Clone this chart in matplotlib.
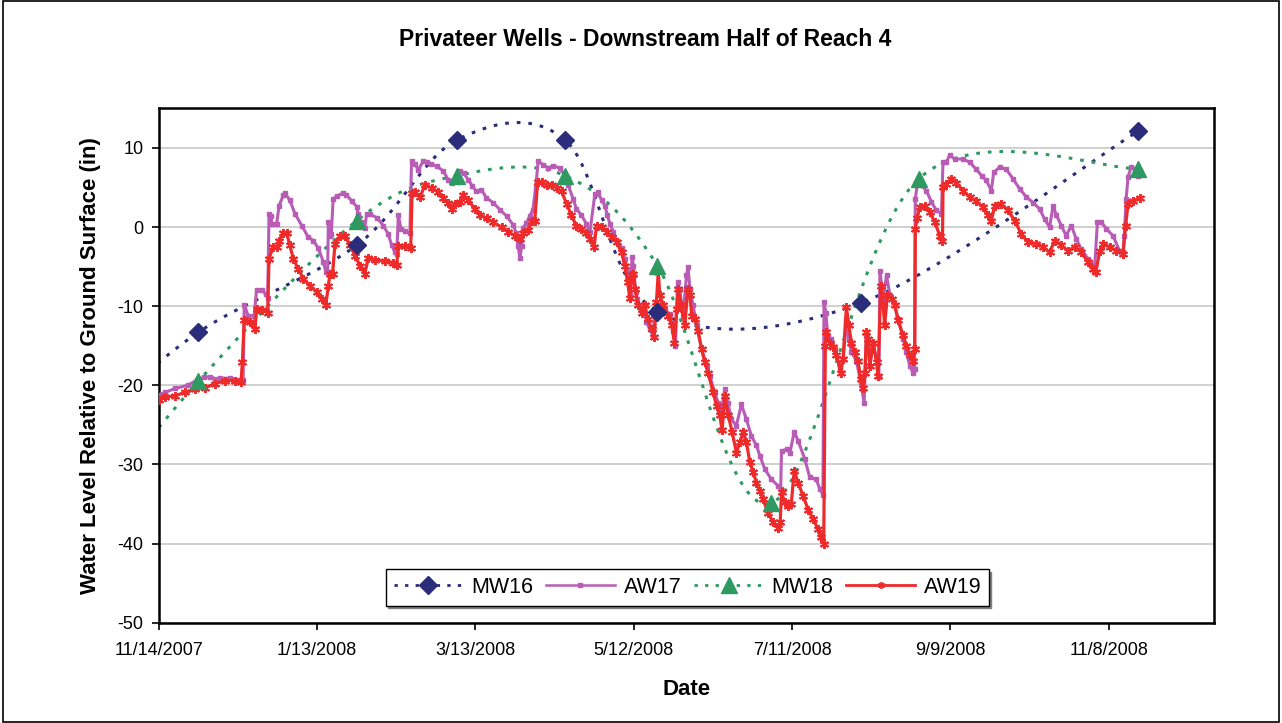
import datetime as dt
import numpy as np
import matplotlib
matplotlib.use("Agg")
import matplotlib.pyplot as plt
import matplotlib.dates as mdates
from matplotlib.lines import Line2D
from matplotlib.patches import Rectangle

plt.rcParams['font.family'] = ['Liberation Sans', 'DejaVu Sans']

# ---------------- data (days after 11/14/2007) ----------------
start_date = dt.date(2007, 11, 14)
axis_days = 400
tick_step_days = 60

mw16_days = [-30, 15, 75, 113, 154, 189, 266, 371]
mw16_vals = [-26.0, -13.3, -2.3, 11.0, 11.0, -10.7, -9.6, 12.1]

mw18_days = [-30, 15, 75, 113, 154, 189, 232, 288, 371]
mw18_vals = [-38.0, -19.5, 0.8, 6.5, 6.5, -4.9, -34.9, 6.1, 7.4]

aw17_days = [0, 2.4, 6.2, 11, 14.6, 17.1, 19.6, 21.5, 23.4, 27.2, 30.9, 32.0,
             32.4, 33.9, 36.2, 37.1, 39.2, 40.5, 41.3, 41.8, 42.4, 43.0, 44.7,
             45.6, 47.2, 47.8, 49.7, 51.6, 54.2, 56.7, 58.6, 60.5, 62.4, 63.4,
             64.0, 64.3, 64.9, 65.4, 66.1, 67.4, 69.9, 71.1, 73.1, 75.0, 75.6,
             76.5, 78.1, 78.8, 80.1, 82.6, 85.1, 87.0, 88.3, 89.5, 90.2, 90.8,
             91.8, 93.3, 95.2, 95.8, 97.1, 98.3, 100.2, 101.5, 103.2, 105.3,
             107.8, 109.7, 111.0, 114.1, 115.5, 117.3, 118.8, 120.4, 122.3,
             124.2, 126.7, 129.3, 131.8, 134.3, 135.4, 136.2, 136.9, 137.5,
             138.1, 139.3, 140.6, 141.8, 142.9, 143.8, 145.7, 147.5, 149.5,
             152.0, 153.9, 155.2, 157.0, 158.3, 160.2, 162.1, 163.4, 165.3,
             166.5, 167.8, 169.1, 170.0, 171.0, 172.3, 173.5, 175.4, 176.6,
             177.9, 178.5, 179.4, 179.9, 180.8, 181.4, 182.7, 184.1, 184.8,
             186.1, 187.4, 188.0, 189.5, 191.8, 193.7, 194.9, 195.8, 196.6,
             197.4, 198.7, 200.0, 200.6, 201.3, 202.5, 203.8, 205.7, 207.6,
             208.8, 210.7, 212.0, 213.2, 214.5, 215.7, 217.0, 218.9, 220.8,
             222.7, 224.6, 226.5, 227.8, 229.7, 232.2, 234.7, 235.7, 236.0,
             237.9, 239.2, 240.8, 242.3, 244.8, 246.7, 249.2, 250.5, 251.7,
             252.1, 252.8, 253.6, 254.9, 256.2, 258.1, 259.4, 260.6, 261.5,
             262.5, 264.4, 266.0, 267.3, 268.2, 269.5, 270.7, 272.0, 272.9,
             273.3, 274.5, 275.8, 277.1, 278.9, 280.2, 282.1, 283.3, 284.6,
             285.8, 286.4, 286.7, 287.7, 289.0, 290.9, 292.8, 294.7, 296.6,
             297.2, 298.5, 299.7, 301.6, 304.8, 307.3, 309.8, 311.8, 313.6,
             315.5, 316.4, 318.7, 321.2, 323.7, 326.3, 328.8, 331.3, 333.8,
             335.7, 337.6, 338.9, 340.2, 342.0, 343.9, 345.8, 347.7, 349.6,
             352.1, 354.7, 355.7, 357.2, 359.1, 361.6, 364.1, 365.4, 365.9,
             366.6, 367.3, 368.5, 369.8, 371.2]
aw17_vals = [-21.2, -20.9, -20.4, -20.0, -19.3, -19.0, -18.9, -19.2, -19.1, -19.1, -19.3, -19.3,
             -9.8, -11.2, -11.2, -7.9, -7.9, -8.5, -8.9, 1.6, 1.4, 0.4, 0.4,
             2.7, 4.0, 4.3, 3.4, 1.7, 0.2, -1.3, -1.7, -2.7, -4.4, -5.7,
             -5.7, 0.7, -1.1, -0.9, 3.5, 3.9, 4.3, 4.1, 3.3, 2.6, 1.6,
             0.7, -0.1, 1.7, 1.6, 1.2, 0.2, -0.9, -2.3, -3.2, -3.4, 1.5,
             -0.2, -0.5, -0.8, 8.3, 8.0, 7.2, 8.3, 8.2, 8.0, 7.7,
             7.1, 6.0, 5.6, 7.1, 6.8, 6.0, 5.2, 4.5, 4.7,
             3.7, 3.1, 2.2, 1.4, 0.3, -0.7, -2.4, -3.9, -2.4,
             -0.1, 0.5, 1.4, 2.2, 5.2, 8.3, 7.9, 7.5, 7.7,
             7.5, 6.5, 5.3, 3.6, 2.3, 1.5, 0.4, -0.6, 4.2,
             4.4, 3.4, 2.7, 1.5, 0.4, -0.6, -1.7, -2.7, -4.0,
             -5.7, -8.6, -3.8, -4.9, -8.2, -9.1, -10.3, -9.9, -12.0,
             -12.9, -13.7, -10.3, -10.0, -10.5, -11.0, -13.1, -15.0, -7.0,
             -7.8, -11.2, -6.1, -5.1, -7.8, -9.9, -12.4, -15.4, -17.5,
             -18.8, -20.9, -22.2, -23.4, -20.5, -22.2, -24.3, -25.1, -22.4,
             -24.3, -26.4, -27.6, -28.9, -30.6, -31.9, -32.7, -33.1, -28.3,
             -28.1, -28.5, -25.9, -27.0, -29.3, -31.6, -31.9, -33.1, -33.8,
             -9.5, -10.8, -13.9, -14.1, -15.4, -17.9, -16.7, -11.8, -14.1,
             -15.8, -16.9, -19.6, -22.2, -13.7, -17.5, -14.6, -16.7, -19.0,
             -5.5, -9.1, -6.1, -8.6, -9.9, -11.6, -14.1, -15.8, -17.5,
             -18.4, -17.9, 3.6, 5.9, 5.3, 4.6, 3.2, 2.1, 1.7,
             8.2, 8.2, 9.1, 8.6, 8.6, 8.2, 7.3, 6.5, 5.9,
             4.6, 6.9, 7.6, 7.3, 6.1, 4.8, 3.8, 3.1, 2.3,
             1.0, 0.0, 2.7, 1.5, 0.2, -1.1, 0.2, -1.5, -2.8,
             -4.0, -4.9, 0.6, 0.6, -0.2, -1.1, -3.0, -3.2, -1.1,
             3.6, 6.3, 7.6, 7.3, 6.5]

aw19_days = [0, 2.4, 6.2, 10.0, 13.8, 17.5, 21.3, 25.1, 28.9, 31.2, 31.7, 32.4,
             34.6, 36.5, 37.1, 39.0, 41.3, 41.8, 43.4, 44.7, 45.6, 47.2, 48.5,
             49.7, 51.0, 52.9, 54.8, 57.3, 59.8, 61.7, 63.3, 64.3, 64.9, 65.9,
             66.8, 68.7, 70.6, 72.5, 74.4, 76.3, 78.1, 79.4, 81.9, 85.7, 88.9,
             90.2, 90.8, 93.3, 95.5, 96.0, 97.1, 99.0, 100.9, 103.4, 105.9,
             107.8, 109.7, 111.0, 112.2, 114.1, 115.4, 117.3, 119.8, 121.7,
             124.3, 126.8, 129.9, 132.4, 135.0, 136.9, 138.1, 140.0, 141.3,
             142.5, 143.6, 145.1, 147.0, 148.9, 150.8, 152.7, 154.6, 156.4,
             158.3, 160.2, 162.1, 163.4, 165.0, 165.9, 167.8, 169.7, 171.6,
             173.5, 175.4, 176.6, 177.7, 178.5, 179.2, 179.8, 180.5, 181.7,
             183.0, 184.3, 185.3, 186.8, 187.8, 188.6, 189.3, 189.9, 191.2,
             193.1, 194.4, 195.4, 196.3, 196.9, 198.0, 199.4, 200.5, 201.3,
             202.0, 203.3, 204.4, 205.7, 207.0, 208.2, 210.1, 211.4, 212.6,
             213.5, 214.5, 215.8, 217.3, 218.9, 220.2, 221.5, 222.7, 224.0,
             225.3, 226.5, 227.8, 229.0, 230.9, 232.8, 234.7, 235.5, 236.0,
             237.2, 238.5, 239.7, 240.8, 242.3, 244.2, 246.1, 248.0, 249.9,
             251.1, 252.0, 252.6, 253.0, 254.3, 255.5, 256.8, 258.5, 259.3,
             260.6, 261.5, 262.5, 263.7, 265.0, 266.0, 266.9, 267.6, 268.2,
             268.9, 269.5, 270.7, 272.0, 272.6, 273.6, 274.5, 275.1, 276.1,
             277.7, 278.9, 280.2, 282.1, 283.3, 284.6, 285.8, 286.5, 286.7,
             287.4, 288.4, 290.3, 292.2, 294.1, 296.0, 297.0, 297.2, 298.5,
             300.4, 302.3, 304.8, 307.3, 309.8, 312.3, 314.2, 315.5, 316.8,
             319.3, 321.8, 324.4, 326.9, 329.4, 332.6, 335.1, 337.6, 339.5,
             342.0, 344.6, 347.1, 349.6, 352.1, 354.0, 355.1, 356.6, 357.8,
             360.4, 362.9, 365.4, 366.4, 367.3, 369.2, 371.7]
aw19_vals = [-21.9, -21.5, -21.3, -20.9, -20.5, -20.3, -19.8, -19.4, -19.4, -19.6, -17.1, -11.8,
             -12.0, -12.9, -10.3, -10.5, -10.8, -4.0, -2.5, -2.5, -1.7, -0.8, -0.8,
             -2.3, -4.0, -5.3, -6.5, -7.4, -8.2, -9.1, -9.9, -7.4, -5.9, -5.9,
             -2.1, -1.1, -1.1, -2.3, -3.6, -4.9, -5.9, -3.9, -4.1, -4.3, -4.5,
             -4.8, -2.4, -2.4, -2.6, 4.3, 4.4, 3.8, 5.3, 5.0, 4.4,
             3.7, 3.1, 2.3, 2.9, 3.2, 4.0, 3.4, 2.3, 1.5,
             1.1, 0.6, 0.0, -0.6, -1.1, -1.5, -0.8, -0.4, 0.8,
             0.8, 5.7, 5.7, 5.3, 5.3, 5.0, 4.5, 2.9, 1.5,
             0.1, -0.3, -0.8, -1.5, -2.5, 0.2, 0.0, -0.6, -1.3,
             -1.9, -3.2, -4.9, -7.0, -8.9, -6.1, -5.9, -7.8, -9.9,
             -10.8, -9.9, -11.6, -12.9, -13.9, -9.5, -5.7, -8.6, -9.9,
             -11.2, -12.4, -14.6, -10.3, -7.8, -9.9, -12.4, -7.8, -8.6,
             -11.2, -11.6, -13.1, -15.4, -17.1, -18.4, -20.9, -22.6, -23.8,
             -25.7, -21.3, -23.8, -25.9, -28.5, -27.2, -25.9, -27.2, -29.7,
             -31.0, -32.3, -33.3, -34.4, -36.1, -37.3, -38.0, -37.3, -33.5,
             -34.8, -35.2, -35.0, -30.8, -32.3, -34.0, -35.7, -36.9, -38.2,
             -39.2, -40.1, -15.0, -13.3, -14.6, -15.2, -16.2, -18.4, -16.7,
             -10.1, -12.4, -14.6, -15.8, -16.9, -19.2, -20.3, -18.4, -13.3,
             -14.1, -17.5, -14.6, -17.1, -18.8, -7.4, -9.9, -12.4, -8.6,
             -9.1, -9.9, -11.8, -13.7, -15.0, -16.2, -16.9, -15.4, -0.2,
             1.1, 2.5, 2.7, 1.9, 0.6, -1.1, -1.7, 5.1, 5.5,
             6.1, 5.6, 4.6, 3.8, 3.3, 2.5, 1.5, 0.8, 2.7,
             2.9, 2.1, 0.8, -0.9, -1.9, -2.1, -2.5, -3.2, -1.7,
             -2.3, -3.0, -2.5, -3.2, -4.4, -5.3, -5.7, -3.0, -2.1,
             -2.5, -3.0, -3.4, 0.2, 2.9, 3.3, 3.7]

y_ticks = [-50, -40, -30, -20, -10, 0, 10]

# ---------------- figure ----------------
W, H = 1282, 723
fig = plt.figure(figsize=(W / 100, H / 100), dpi=100)
ax = fig.add_axes([158.7 / W, 1 - 622.7 / H, (1214.3 - 158.7) / W, (622.7 - 108.4) / H])

x0 = mdates.date2num(start_date)
def to_x(days):
    return x0 + np.asarray(days, dtype=float)

ax.set_xlim(x0, x0 + axis_days)
ax.set_ylim(-50, 15)

c_mw16 = '#2B2C7A'
c_aw17 = '#B85CB5'
c_mw18 = '#2E9A62'
c_aw19 = '#EE2A2A'


def smooth(xs, ys, n=40):
    pts = ax.transData.transform(np.column_stack([xs, ys]))
    out = []
    for i in range(len(pts) - 1):
        p0 = pts[i - 1] if i > 0 else pts[i]
        p1 = pts[i]
        p2 = pts[i + 1]
        p3 = pts[i + 2] if i + 2 < len(pts) else pts[i + 1]
        c1 = p1 + (p2 - p0) / 6.0
        c2 = p2 - (p3 - p1) / 6.0
        t = np.linspace(0, 1, n)[:, None]
        seg = (1 - t) ** 3 * p1 + 3 * (1 - t) ** 2 * t * c1 + 3 * (1 - t) * t ** 2 * c2 + t ** 3 * p2
        out.append(seg if i == 0 else seg[1:])
    res = ax.transData.inverted().transform(np.vstack(out))
    return res[:, 0], res[:, 1]

dot_style = (0, (1.2, 2.6))

# smoothed dotted lines
sx, sy = smooth(to_x(mw16_days), mw16_vals)
ax.plot(sx, sy, color=c_mw16, lw=2.2, linestyle=dot_style, zorder=2)
sx, sy = smooth(to_x(mw18_days), mw18_vals)
ax.plot(sx, sy, color=c_mw18, lw=2.2, linestyle=dot_style, zorder=2)

# logger series
ax.plot(to_x(aw17_days), aw17_vals, color=c_aw17, lw=2.2, marker='s', ms=3.5,
        mec=c_aw17, mfc=c_aw17, zorder=3)
ax.plot(to_x(aw19_days), aw19_vals, color=c_aw19, lw=2.3, marker=(6, 2, 0), ms=6.5,
        mec=c_aw19, mew=1.4, zorder=3.5)

# markers for manual wells
ax.plot(to_x(mw16_days), mw16_vals, linestyle='none', marker='D', ms=9.5,
        color=c_mw16, zorder=4)
ax.plot(to_x(mw18_days), mw18_vals, linestyle='none', marker='^', ms=11,
        color=c_mw18, zorder=4)

# axes styling
ax.set_yticks(y_ticks)
ax.set_yticklabels([str(v) for v in y_ticks])
xt = [x0 + tick_step_days * k for k in range(axis_days // tick_step_days + 1)]
ax.set_xticks(xt)
lbls = []
for v in xt:
    d = mdates.num2date(v)
    lbls.append(f"{d.month}/{d.day}/{d.year}")
ax.set_xticklabels(lbls)
ax.tick_params(axis='both', labelsize=13, direction='out', length=5, width=1.2,
               colors='black', pad=6)
ax.tick_params(axis='x', pad=9)
ax.grid(axis='y', color='#C8C8C8', lw=1.2, zorder=0)
ax.set_axisbelow(True)
for s in ax.spines.values():
    s.set_linewidth(1.8)
    s.set_color('black')

ax.set_xlabel('Date', fontsize=16, fontweight='bold', labelpad=14)
ax.set_ylabel('Water Level Relative to Ground Surface (in)', fontsize=16,
              fontweight='bold', labelpad=12)
fig.text(645 / W, 1 - 40 / H, 'Privateer Wells - Downstream Half of Reach 4',
         ha='center', va='center', fontsize=16.5, fontweight='bold')

handles = [
    Line2D([], [], color=c_mw16, lw=2.0, linestyle=dot_style, marker='D', ms=9),
    Line2D([], [], color=c_aw17, lw=1.8, marker='s', ms=2.8),
    Line2D([], [], color=c_mw18, lw=2.0, linestyle=dot_style, marker='^', ms=11),
    Line2D([], [], color=c_aw19, lw=2.0, marker=(6, 2, 0), ms=5, mew=1.2),
]
leg = ax.legend(handles, ['MW16', 'AW17', 'MW18', 'AW19'], loc='center',
                bbox_to_anchor=(0.501, 0.0684), ncol=4, fontsize=15.5,
                frameon=True, fancybox=False, edgecolor='black', framealpha=1,
                handlelength=3.2, handletextpad=0.4, columnspacing=0.6,
                borderpad=0.35, numpoints=1,
                shadow={'color': '#808080', 'alpha': 1, 'ox': 1.5, 'oy': -1.5})
leg.get_frame().set_linewidth(1.0)
leg.set_zorder(10)

# chart outer border
fig.patches.append(Rectangle((0.002, 0.002), 0.996, 0.996, transform=fig.transFigure,
                             fill=False, edgecolor='black', lw=1.2))

fig.savefig('out.png', dpi=100)
